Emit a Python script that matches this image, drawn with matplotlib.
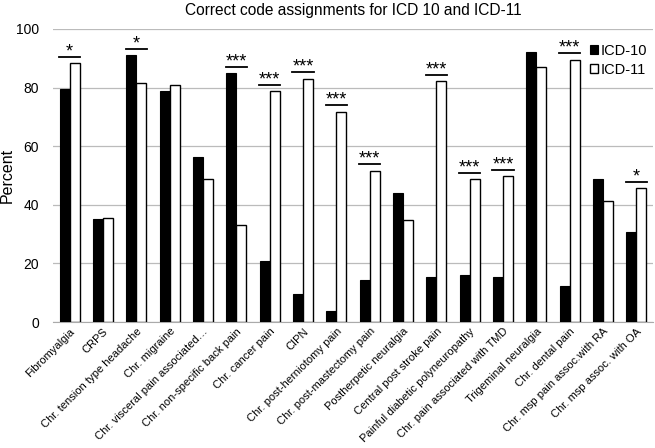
import matplotlib
matplotlib.use("Agg")
import matplotlib.pyplot as plt
import numpy as np

plt.rcParams['font.family'] = ['Liberation Sans', 'DejaVu Sans']

categories = [
    "Fibromyalgia", "CRPS", "Chr. tension type headache", "Chr. migraine",
    "Chr. visceral pain associated…", "Chr. non-specific back pain",
    "Chr. cancer pain", "CIPN", "Chr. post-herniotomy pain",
    "Chr. post-mastectomy pain", "Postherpetic neuralgia",
    "Central post stroke pain", "Painful diabetic polyneuropathy",
    "Chr. pain associated with TMD", "Trigeminal neuralgia",
    "Chr. dental pain", "Chr. msp pain assoc.with RA", "Chr. msp assoc. with OA",
]
icd10 = [79.5, 35.0, 91.0, 79.0, 56.4, 84.9, 20.9, 9.4, 3.8, 14.2, 44.1,
         15.5, 16.0, 15.2, 92.3, 12.3, 48.9, 30.8]
icd11 = [88.4, 35.4, 81.7, 80.8, 48.7, 33.2, 78.7, 83.0, 71.8, 51.6, 34.8,
         82.1, 48.7, 49.8, 86.9, 89.5, 41.3, 45.6]
signif = ["*", "", "*", "", "", "***", "***", "***", "***", "***", "",
          "***", "***", "***", "", "***", "", "*"]

fig = plt.figure(figsize=(6.55, 4.48), dpi=100)
ax = fig.add_axes([53 / 655, 1 - 322 / 448, 600 / 655, 293 / 448])

x = np.arange(len(categories))
w = 0.3
ax.bar(x - w / 2, icd10, w, color="black", edgecolor="black", linewidth=0.8, label="ICD-10", zorder=3)
ax.bar(x + w / 2, icd11, w, color="white", edgecolor="black", linewidth=1.0, label="ICD-11", zorder=3)

# significance brackets
for i, s in enumerate(signif):
    if not s:
        continue
    top = max(icd10[i], icd11[i]) + 2.2
    ax.plot([i - w - 0.02, i + w + 0.02], [top, top], color="black", lw=1.3, zorder=4)
    ax.text(i, top - 1.2, s, ha="center", va="bottom", fontsize=13, zorder=4)

ax.set_xlim(-0.5, len(categories) - 0.5)
ax.set_ylim(0, 100)
ax.set_yticks(range(0, 101, 20))
ax.yaxis.grid(True, color="#bbbbbb", lw=0.9, zorder=0)
ax.set_axisbelow(True)
for sp in ["top", "right", "left"]:
    ax.spines[sp].set_visible(False)
ax.spines["bottom"].set_color("#aaaaaa")
ax.tick_params(axis="both", length=0)
ax.tick_params(axis="y", labelsize=10, pad=10)
ax.set_xticks(x)
ax.set_xticklabels(categories, rotation=45, ha="right", rotation_mode="anchor", fontsize=8)
ax.tick_params(axis="x", pad=3)
ax.set_ylabel("Percent", fontsize=11.5)
ax.yaxis.set_label_coords(-0.063, 0.5)
ax.set_title("Correct code assignments for ICD 10 and ICD-11", fontsize=11.2, pad=10)

ax.legend(loc="upper right", bbox_to_anchor=(1.0, 0.97), frameon=False, fontsize=10.5,
          handlelength=0.6, handleheight=0.6, handletextpad=0.15, borderaxespad=0,
          labelspacing=0.35)

fig.savefig("out.png", dpi=100)
